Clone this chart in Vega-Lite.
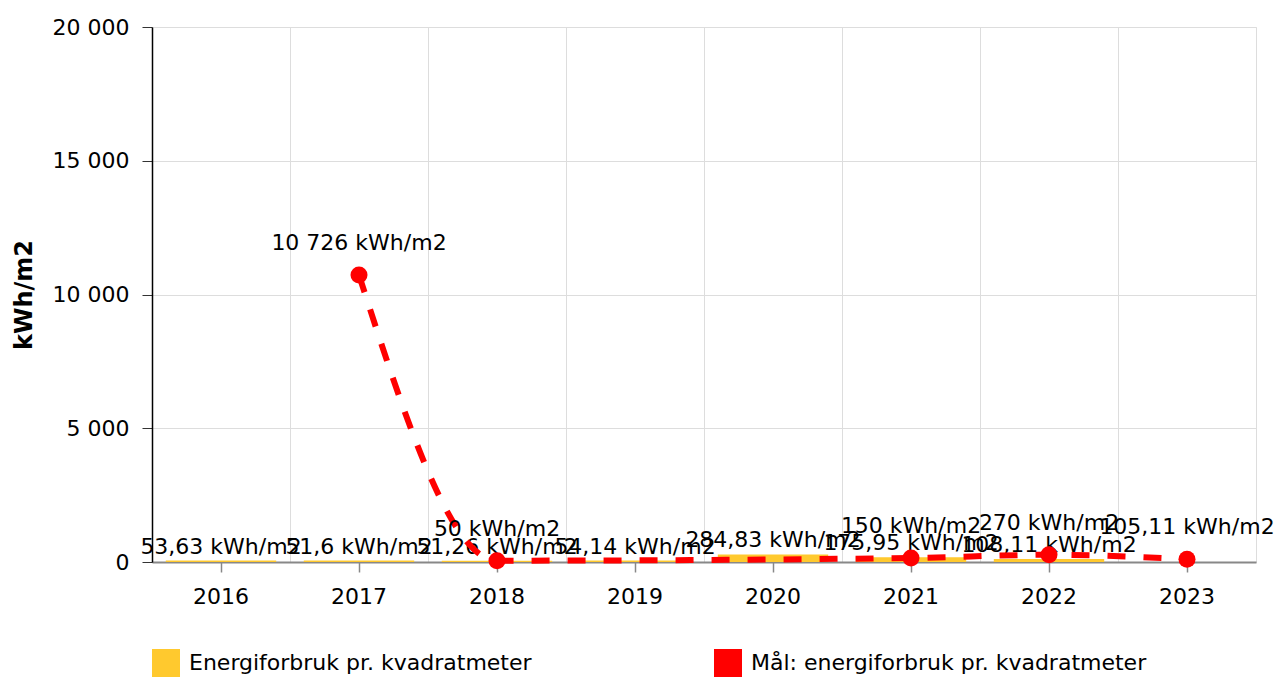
{
  "$schema": "https://vega.github.io/schema/vega-lite/v6.json",
  "width": 1104,
  "height": 535,
  "autosize": {"type": "none"},
  "padding": {"left": 152, "top": 27, "right": 21, "bottom": 115},
  "config": {
    "locale": {"number": {"decimal": ",", "thousands": " ", "grouping": [3], "currency": ["", " kr"]}},
    "font": "DejaVu Sans",
    "view": {"stroke": "#dddddd", "strokeWidth": 1},
    "axis": {"gridColor": "#dddddd", "gridWidth": 1, "labelFont": "DejaVu Sans", "labelFontSize": 22, "labelColor": "#000000"},
    "text": {"font": "DejaVu Sans", "fontSize": 22, "color": "#000000"}
  },
  "data": {
    "values": [
      {"year": "2016", "energi": 53.63, "maal": null},
      {"year": "2017", "energi": 51.6, "maal": 10726},
      {"year": "2018", "energi": 51.26, "maal": 50},
      {"year": "2019", "energi": 54.14, "maal": null},
      {"year": "2020", "energi": 284.83, "maal": null},
      {"year": "2021", "energi": 175.95, "maal": 150},
      {"year": "2022", "energi": 108.11, "maal": 270},
      {"year": "2023", "energi": null, "maal": 105.11}
    ]
  },
  "resolve": {"axis": {"x": "independent"}},
  "layer": [
    {
      "transform": [{"filter": "datum.energi != null"}],
      "mark": {"type": "bar"},
      "encoding": {
        "x": {"field": "year", "type": "ordinal", "sort": null,
          "scale": {"domain": ["2016","2017","2018","2019","2020","2021","2022","2023"], "paddingInner": 0.2, "paddingOuter": 0.1},
          "axis": {"orient": "top", "grid": true, "bandPosition": -0.125, "labels": false, "ticks": false, "domain": false, "title": null}},
        "y": {"field": "energi", "type": "quantitative",
          "scale": {"domain": [0, 20000], "nice": false},
          "axis": {"title": "kWh/m2", "titleFont": "DejaVu Sans", "titleFontSize": 24, "titleFontWeight": "bold", "titleColor": "#000000",
            "values": [0, 5000, 10000, 15000, 20000], "format": ",d", "domainColor": "#000000", "domainWidth": 1.5,
            "tickColor": "#333333", "tickSize": 10, "labelPadding": 13, "grid": true, "titlePadding": 16}},
        "color": {"datum": "Energiforbruk pr. kvadratmeter", "type": "nominal",
          "scale": {"domain": ["Energiforbruk pr. kvadratmeter", "Mål: energiforbruk pr. kvadratmeter"], "range": ["#FFC92E", "#FF0000"]},
          "legend": {"orient": "none", "legendX": 0, "legendY": 622, "direction": "horizontal", "title": null,
            "labelFontSize": 22, "labelFont": "DejaVu Sans", "labelColor": "#000000", "labelLimit": 700, "labelOffset": 9,
            "columnPadding": 182, "symbolSize": 784, "symbolType": "square",
            "encode": {"symbols": {"update": {"shape": {"value": "square"}, "fill": {"scale": "color", "field": "value"}, "stroke": {"value": "transparent"}, "strokeWidth": {"value": 0}, "size": {"value": 784}, "opacity": {"value": 1}, "strokeDash": {"value": []}}}}}}
      }
    },
    {
      "transform": [{"filter": "datum.energi != null"}, {"calculate": "format(datum.energi, ',.2~f') + ' kWh/m2'", "as": "lbl"}],
      "mark": {"type": "text", "baseline": "bottom", "dy": -2},
      "encoding": {
        "x": {"field": "year", "type": "ordinal", "sort": null, "axis": null},
        "y": {"field": "energi", "type": "quantitative"},
        "text": {"field": "lbl"}
      }
    },
    {
      "transform": [{"filter": "datum.maal != null"}],
      "mark": {"type": "line", "interpolate": "monotone", "strokeWidth": 6, "strokeDash": [18, 18]},
      "encoding": {
        "x": {"field": "year", "type": "ordinal", "sort": null,
          "axis": {"orient": "bottom", "title": null, "labelAngle": 0, "domainColor": "#888888", "domainWidth": 2, "tickColor": "#888888", "tickSize": 10, "tickWidth": 1.5, "labelPadding": 14, "grid": false}},
        "y": {"field": "maal", "type": "quantitative"},
        "color": {"datum": "Mål: energiforbruk pr. kvadratmeter", "type": "nominal"}
      }
    },
    {
      "transform": [{"filter": "datum.maal != null"}],
      "mark": {"type": "point", "filled": true, "size": 290, "opacity": 1},
      "encoding": {
        "x": {"field": "year", "type": "ordinal", "sort": null, "axis": null},
        "y": {"field": "maal", "type": "quantitative"},
        "color": {"datum": "Mål: energiforbruk pr. kvadratmeter", "type": "nominal"}
      }
    },
    {
      "transform": [{"filter": "datum.maal != null"}, {"calculate": "format(datum.maal, ',.2~f') + ' kWh/m2'", "as": "lbl"}],
      "mark": {"type": "text", "baseline": "bottom", "dy": -20},
      "encoding": {
        "x": {"field": "year", "type": "ordinal", "sort": null, "axis": null},
        "y": {"field": "maal", "type": "quantitative"},
        "text": {"field": "lbl"}
      }
    }
  ]
}
